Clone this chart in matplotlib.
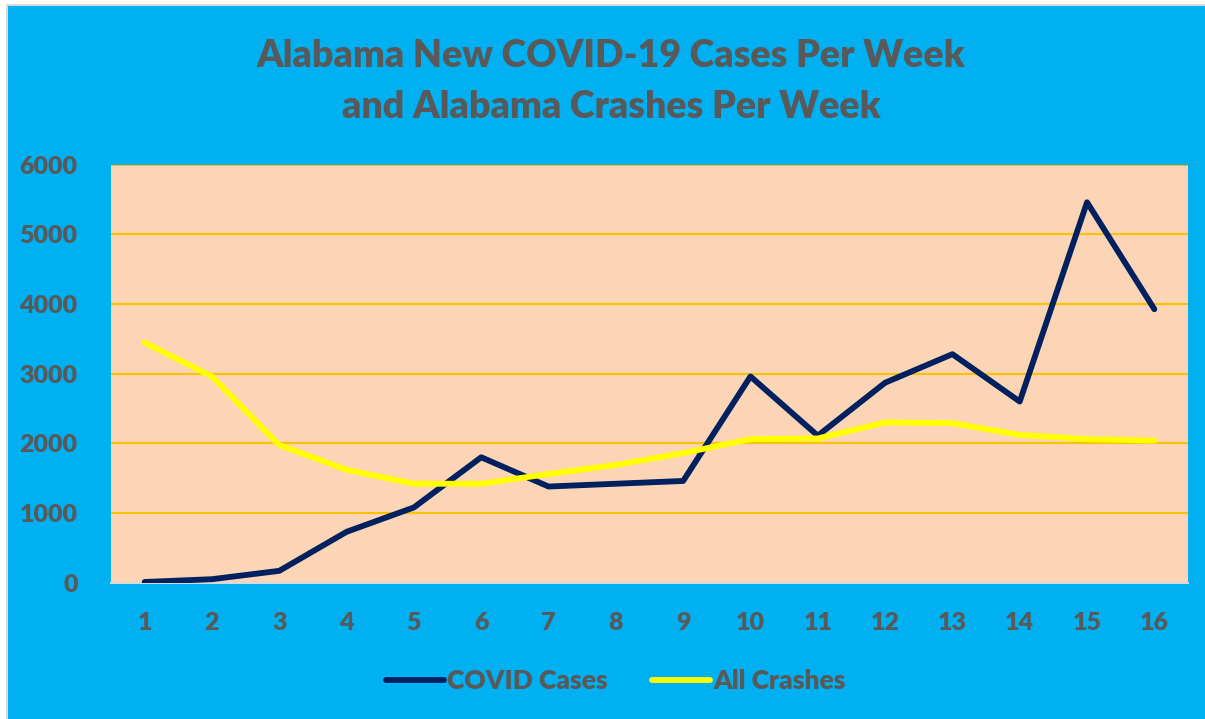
import matplotlib.pyplot as plt
from matplotlib.patches import Rectangle

weeks = list(range(1, 17))
covid_cases = [10, 50, 170, 730, 1080, 1800, 1380, 1420, 1460, 2960, 2110, 2870, 3280, 2600, 5460, 3925]
all_crashes = [3445, 2960, 1976, 1620, 1420, 1420, 1560, 1690, 1860, 2060, 2070, 2300, 2290, 2120, 2060, 2040]

text_color = '#595959'
plt.rcParams['font.family'] = ['Lato', 'DejaVu Sans']

W, H = 1205, 719
fig = plt.figure(figsize=(W / 100, H / 100), dpi=100, facecolor='#00B0F0')
# white margin with thin grey frame on the left and top edges
fig.patches.append(Rectangle((0, 0), 6 / W, 1, transform=fig.transFigure,
                             facecolor='white', edgecolor='none', zorder=10))
fig.patches.append(Rectangle((0, 1 - 4 / H), 1, 4 / H, transform=fig.transFigure,
                             facecolor='white', edgecolor='none', zorder=10))
fig.patches.append(Rectangle((6 / W, 0), 2 / W, 1 - 4 / H, transform=fig.transFigure,
                             facecolor='#D9D9D9', edgecolor='none', zorder=10))
fig.patches.append(Rectangle((6 / W, 1 - 6 / H), 1, 2 / H, transform=fig.transFigure,
                             facecolor='#D9D9D9', edgecolor='none', zorder=10))

ax = fig.add_axes([0.0921, 0.1896, 0.8938, 0.5814])
ax.set_facecolor('#FBD5B5')

ax.plot(weeks, covid_cases, color='#002060', linewidth=4.2, label='COVID Cases',
        solid_capstyle='round', zorder=3)
ax.plot(weeks, all_crashes, color='#FFFF00', linewidth=4.2, label='All Crashes',
        solid_capstyle='round', zorder=3)

ax.set_xlim(0.5, 16.5)
ax.set_ylim(0, 6000)
ax.set_xticks(weeks)
ax.set_yticks(range(0, 6001, 1000))
ax.grid(axis='y', color='#FFC000', linewidth=1.5, zorder=1)
ax.set_axisbelow(True)
for s in ['top', 'left', 'right']:
    ax.spines[s].set_visible(False)
ax.spines['bottom'].set_color('#D9D9D9')
ax.spines['bottom'].set_linewidth(1.5)
ax.tick_params(length=0, labelsize=18, labelcolor=text_color)
ax.tick_params(axis='x', pad=21)
ax.tick_params(axis='y', pad=24)
for lbl in ax.get_xticklabels() + ax.get_yticklabels():
    lbl.set_fontweight('heavy')

fig.text(0.507, 0.887, 'Alabama New COVID-19 Cases Per Week\nand Alabama Crashes Per Week',
         ha='center', va='center', fontsize=27, fontweight='heavy', color=text_color,
         linespacing=1.6)

leg = fig.legend(loc='center', bbox_to_anchor=(0.511, 1 - 681 / H), ncol=2, frameon=False,
                 handlelength=2.2, handletextpad=0.1, columnspacing=1.7,
                 prop={'size': 19, 'weight': 'heavy'})
for t in leg.get_texts():
    t.set_color(text_color)

fig.savefig('out.png', dpi=100, facecolor=fig.get_facecolor())
